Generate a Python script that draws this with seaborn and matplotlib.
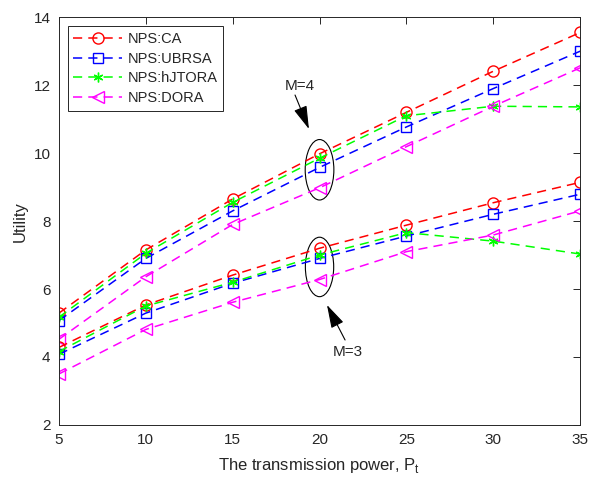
import matplotlib
matplotlib.use("Agg")
import matplotlib.pyplot as plt
from matplotlib.patches import Ellipse
import seaborn as sns
import pandas as pd

power = [5, 10, 15, 20, 25, 30, 35]

ca_m4 = [5.29, 7.15, 8.65, 9.98, 11.2, 12.41, 13.55]
ubrsa_m4 = [5.07, 6.9, 8.3, 9.58, 10.77, 11.9, 13.0]
hjtora_m4 = [5.17, 7.05, 8.55, 9.85, 11.1, 11.38, 11.36]
dora_m4 = [4.52, 6.36, 7.9, 8.98, 10.19, 11.38, 12.51]

ca_m3 = [4.28, 5.53, 6.41, 7.2, 7.88, 8.54, 9.14]
ubrsa_m3 = [4.08, 5.29, 6.17, 6.9, 7.56, 8.2, 8.79]
hjtora_m3 = [4.16, 5.5, 6.2, 7.0, 7.66, 7.41, 7.03]
dora_m3 = [3.5, 4.81, 5.61, 6.28, 7.1, 7.59, 8.3]

labels = ["NPS:CA", "NPS:UBRSA", "NPS:hJTORA", "NPS:DORA"]
colors = ["#ff0000", "#0000ff", "#00ff00", "#ff00ff"]
markers = ["o", "s", (6, 2, 0), "<"]
msizes = [8, 7, 7, 9]

sns.set_theme(style="white")
plt.rcParams['font.family'] = ['Liberation Sans', 'DejaVu Sans']

fig = plt.figure(figsize=(5.89, 4.78), dpi=100)
ax = fig.add_axes([0.100, 0.111, 0.885, 0.853])

series_m4 = [ca_m4, ubrsa_m4, hjtora_m4, dora_m4]
series_m3 = [ca_m3, ubrsa_m3, hjtora_m3, dora_m3]

for group, with_label in ((series_m4, True), (series_m3, False)):
    for vals, lab, col, mk, ms in zip(group, labels, colors, markers, msizes):
        df = pd.DataFrame({"P": power, "U": vals})
        sns.lineplot(data=df, x="P", y="U", ax=ax, color=col,
                     label=lab if with_label else None,
                     linestyle=(0, (6, 4)), linewidth=1.1,
                     marker=mk, markersize=ms,
                     markerfacecolor="none" if mk != (6, 2, 0) else col,
                     markeredgecolor=col, markeredgewidth=1.0)

ax.add_patch(Ellipse((20, 9.51), 1.65, 1.78, fill=False, edgecolor="black", linewidth=0.8))
ax.add_patch(Ellipse((20, 6.65), 1.63, 1.75, fill=False, edgecolor="black", linewidth=0.8))

arrow = dict(arrowstyle="-|>,head_length=1.2,head_width=0.35",
             color="black", lw=0.8, shrinkA=0, shrinkB=0)
ax.text(18.87, 11.97, "M=4", ha="center", va="center", fontsize=11)
ax.annotate("", xy=(19.39, 10.71), xytext=(18.59, 11.71), arrowprops=arrow)
ax.text(21.62, 4.15, "M=3", ha="center", va="center", fontsize=11)
ax.annotate("", xy=(20.43, 5.53), xytext=(21.47, 4.5), arrowprops=arrow)

ax.set_xlim(5, 35)
ax.set_ylim(2, 14)
ax.set_xticks(power)
ax.set_yticks([2, 4, 6, 8, 10, 12, 14])
ax.set_xlabel("The transmission power, P$_\\mathregular{t}$", fontsize=12, labelpad=6)
ax.set_ylabel("Utility", fontsize=12, labelpad=4)
ax.tick_params(direction="in", top=True, right=True, length=5, width=0.7,
               labelsize=11, colors="#262626", pad=6)
for sp in ax.spines.values():
    sp.set_color("#262626")
    sp.set_linewidth(0.7)

leg = ax.legend(loc="upper left", fontsize=10.5, frameon=True, fancybox=False,
                edgecolor="#262626", framealpha=1, handlelength=3.3,
                borderaxespad=0.6, labelspacing=0.4, handletextpad=0.4)
leg.get_frame().set_linewidth(0.7)

fig.savefig("out.png", dpi=100)
